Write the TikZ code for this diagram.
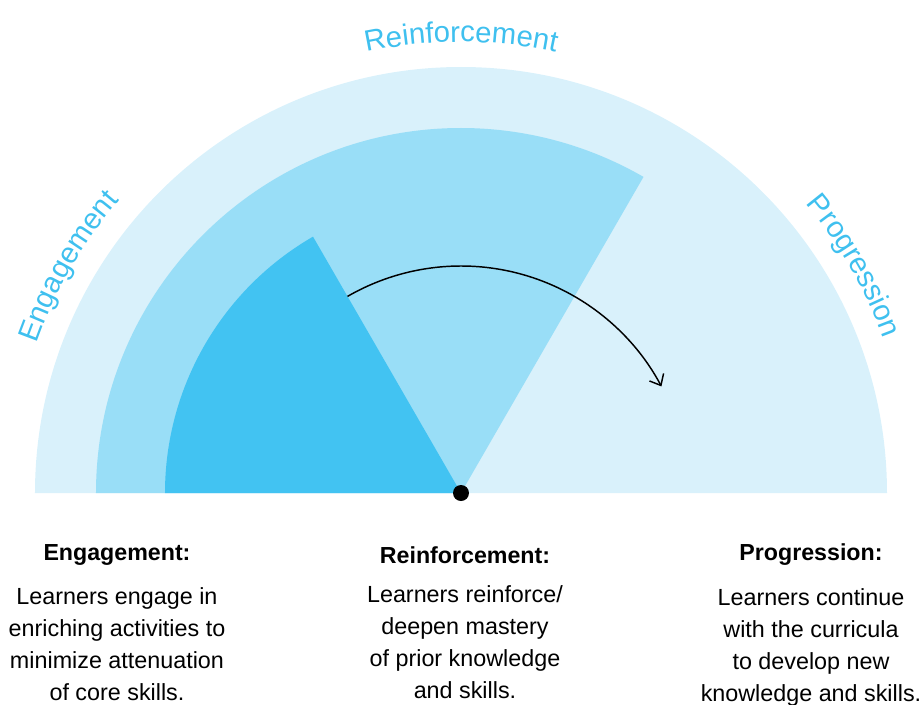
\documentclass[tikz,border=0pt]{standalone}
\usepackage{fontspec}
\setmainfont{Liberation Sans}
\usepackage{tikz}
\usetikzlibrary{arrows.meta,positioning,decorations.text}
\definecolor{outer-color}{HTML}{D9F1FB}
\definecolor{mid-color}{HTML}{99DEF7}
\definecolor{inner-color}{HTML}{42C3F2}
\definecolor{label-color}{HTML}{3FC0EF}
\tikzset{
  outer/.style={fill=outer-color},
  mid/.style={fill=mid-color},
  inner/.style={fill=inner-color},
  pivot/.style={circle, fill=black, minimum size=12, inner sep=0},
  stage-title/.style={font=\fontsize{17.4}{24}\selectfont\bfseries, inner sep=0},
  stage-text/.style={font=\fontsize{17.5}{24}\selectfont, align=center, inner sep=0},
  arc-label/.style={decorate, decoration={text along path, text align=center,
    text={|\fontsize{22}{24}\selectfont\color{label-color}|#1}}}
}

\begin{document}
\begin{tikzpicture}[x=0.75pt, y=0.75pt]
  \useasboundingbox (-461,-211) rectangle (463,493);
  % the three sectors
  \fill[outer] (0,0) -- (0:426) arc[start angle=0, end angle=180, radius=426] -- cycle;
  \fill[mid] (0,0) -- (180:365) arc[start angle=180, end angle=60, radius=365] -- cycle;
  \fill[inner] (0,0) -- (180:296) arc[start angle=180, end angle=120, radius=296] -- cycle;

  % labels round the rim
  \path[arc-label=Engagement] (175:450) arc[start angle=175, end angle=125, radius=450];
  \path[arc-label=Reinforcement] (115:451) arc[start angle=115, end angle=65, radius=451];
  \path[arc-label=Progression] (55:450) arc[start angle=55, end angle=5, radius=450];

  % turning arrow
  \coordinate (turn-start) at (120:227);
  \draw[line width=1.1pt, -{Straight Barb[length=7pt, width=12pt]}]
    (turn-start) arc[start angle=120, end angle=28, radius=227];
  \node[pivot] (hub) at (0,0) {};

  % stage descriptions
  \node[stage-title] (eng-title) at (-344,-62) {Engagement:};
  \node[stage-title] (rein-title) at (4,-62) {Reinforcement:};
  \node[stage-title] (prog-title) at (350,-62) {Progression:};
  \node[stage-text, below=22 of eng-title] (eng-text)
    {Learners engage in\\enriching activities to\\minimize attenuation\\of core skills.};
  \node[stage-text, below=22 of rein-title] (rein-text)
    {Learners reinforce/\\deepen mastery\\of prior knowledge\\and skills.};
  \node[stage-text, below=22 of prog-title] (prog-text)
    {Learners continue\\with the curricula\\to develop new\\knowledge and skills.};
\end{tikzpicture}
\end{document}
